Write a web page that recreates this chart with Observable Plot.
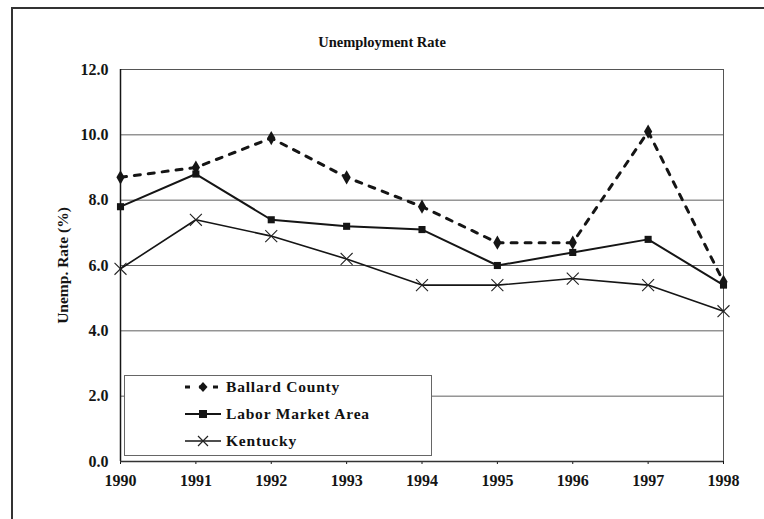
<!DOCTYPE html>
<html>
<head>
<meta charset="utf-8">
<script src="https://cdn.jsdelivr.net/npm/d3@7"></script>
<script src="https://cdn.jsdelivr.net/npm/@observablehq/plot@0.6"></script>
<style>
  html, body { margin: 0; padding: 0; background: #fff; }
  #wrap { position: relative; width: 764px; height: 519px; overflow: hidden; font-family: "Liberation Serif", "Times New Roman", serif; }
  #border { position: absolute; left: 11px; top: 7px; width: 780px; height: 540px; border: 2px solid #333; box-sizing: border-box; pointer-events: none; }
  #title { height: 55px; box-sizing: border-box; padding-top: 35px; text-align: center; font-weight: bold; font-size: 14.5px; line-height: 15px; color: #111; }
  #legend { position: absolute; left: 124px; top: 375px; width: 308px; height: 81px; border: 1px solid #666; box-sizing: border-box; background: #fff; }
  .item { position: absolute; left: 58px; height: 20px; display: flex; align-items: center; font-weight: bold; font-size: 15.5px; color: #111; letter-spacing: 0.8px; }
  .item svg { margin-right: 3px; }
  #chart svg text { font-size: 16px !important; font-weight: bold; }
  #chart svg g[aria-label="y-axis label"] text { font-size: 15.5px !important; }
</style>
</head>
<body>
<div id="wrap">
  <div id="title">Unemployment Rate</div>
  <div id="chart"></div>
  <div id="legend"></div>
  <div id="border"></div>
</div>
<script>
const years = [1990, 1991, 1992, 1993, 1994, 1995, 1996, 1997, 1998];
const ballard = [8.7, 9.0, 9.9, 8.7, 7.8, 6.7, 6.7, 10.1, 5.5];
const laborMarket = [7.8, 8.8, 7.4, 7.2, 7.1, 6.0, 6.4, 6.8, 5.4];
const kentucky = [5.9, 7.4, 6.9, 6.2, 5.4, 5.4, 5.6, 5.4, 4.6];
const yTicks = [0, 2, 4, 6, 8, 10, 12];
const seriesNames = ["Ballard County", "Labor Market Area", "Kentucky"];

const data = years.map((year, i) => ({year, ballard: ballard[i], lma: laborMarket[i], ky: kentucky[i]}));
const ink = "#151515";

const chart = Plot.plot({
  width: 764,
  height: 464,
  marginLeft: 120,
  marginRight: 41,
  marginTop: 14,
  marginBottom: 58,
  style: {fontFamily: "Liberation Serif, serif", fontSize: "16px", fontWeight: "bold", color: ink, background: "transparent"},
  x: {domain: [1990, 1998], ticks: years, tickFormat: d3.format("d")},
  y: {domain: [0, 12], ticks: yTicks, tickFormat: d3.format(".1f")},
  marks: [
    Plot.gridY(yTicks, {stroke: "#444", strokeOpacity: 0.85, strokeWidth: 1}),
    Plot.frame({stroke: "#555", strokeWidth: 1}),
    Plot.axisY({ticks: yTicks, tickFormat: d3.format(".1f"), tickSize: 0, tickPadding: 12, label: "Unemp. Rate (%)", labelAnchor: "center", labelOffset: 64, labelArrow: "none"}),
    Plot.axisX({ticks: years, tickFormat: d3.format("d"), tickSize: 3, tickPadding: 10, label: null}),
    Plot.ruleX([1990], {stroke: ink, strokeWidth: 1.5}),
    Plot.ruleY([0], {stroke: "#333", strokeWidth: 1.5}),
    Plot.line(data, {x: "year", y: "ky", stroke: ink, strokeWidth: 1.6}),
    Plot.line(data, {x: "year", y: "lma", stroke: ink, strokeWidth: 2}),
    Plot.line(data, {x: "year", y: "ballard", stroke: ink, strokeWidth: 3, strokeDasharray: "6,8"}),
    Plot.dot(data, {x: "year", y: "ky", symbol: "times", r: 5.5, stroke: "#222", strokeWidth: 1.1}),
    Plot.dot(data, {x: "year", y: "lma", symbol: "square", r: 4, fill: ink, stroke: "none"}),
    Plot.dot(data, {x: "year", y: "ballard", symbol: "diamond", r: 4.3, fill: ink, stroke: "none"})
  ]
});
document.getElementById("chart").appendChild(chart);

// Legend
const legend = document.getElementById("legend");
const swatches = [
  `<svg width="40" height="14"><line x1="2" y1="7" x2="38" y2="7" stroke="${ink}" stroke-width="3" stroke-dasharray="5,9"/><path d="M20,2 L24.5,7 L20,12 L15.5,7 Z" fill="${ink}"/></svg>`,
  `<svg width="40" height="14"><line x1="2" y1="7" x2="38" y2="7" stroke="${ink}" stroke-width="2"/><rect x="16" y="3" width="8" height="8" fill="${ink}"/></svg>`,
  `<svg width="40" height="14"><line x1="2" y1="7" x2="38" y2="7" stroke="${ink}" stroke-width="1.5"/><path d="M15,2 L25,12 M25,2 L15,12" stroke="#222" stroke-width="1.2"/></svg>`
];
const tops = [1, 28, 55];
seriesNames.forEach((name, i) => {
  const d = document.createElement("div");
  d.className = "item";
  d.style.top = tops[i] + "px";
  d.innerHTML = swatches[i] + `<span>${name}</span>`;
  legend.appendChild(d);
});
</script>
</body>
</html>
